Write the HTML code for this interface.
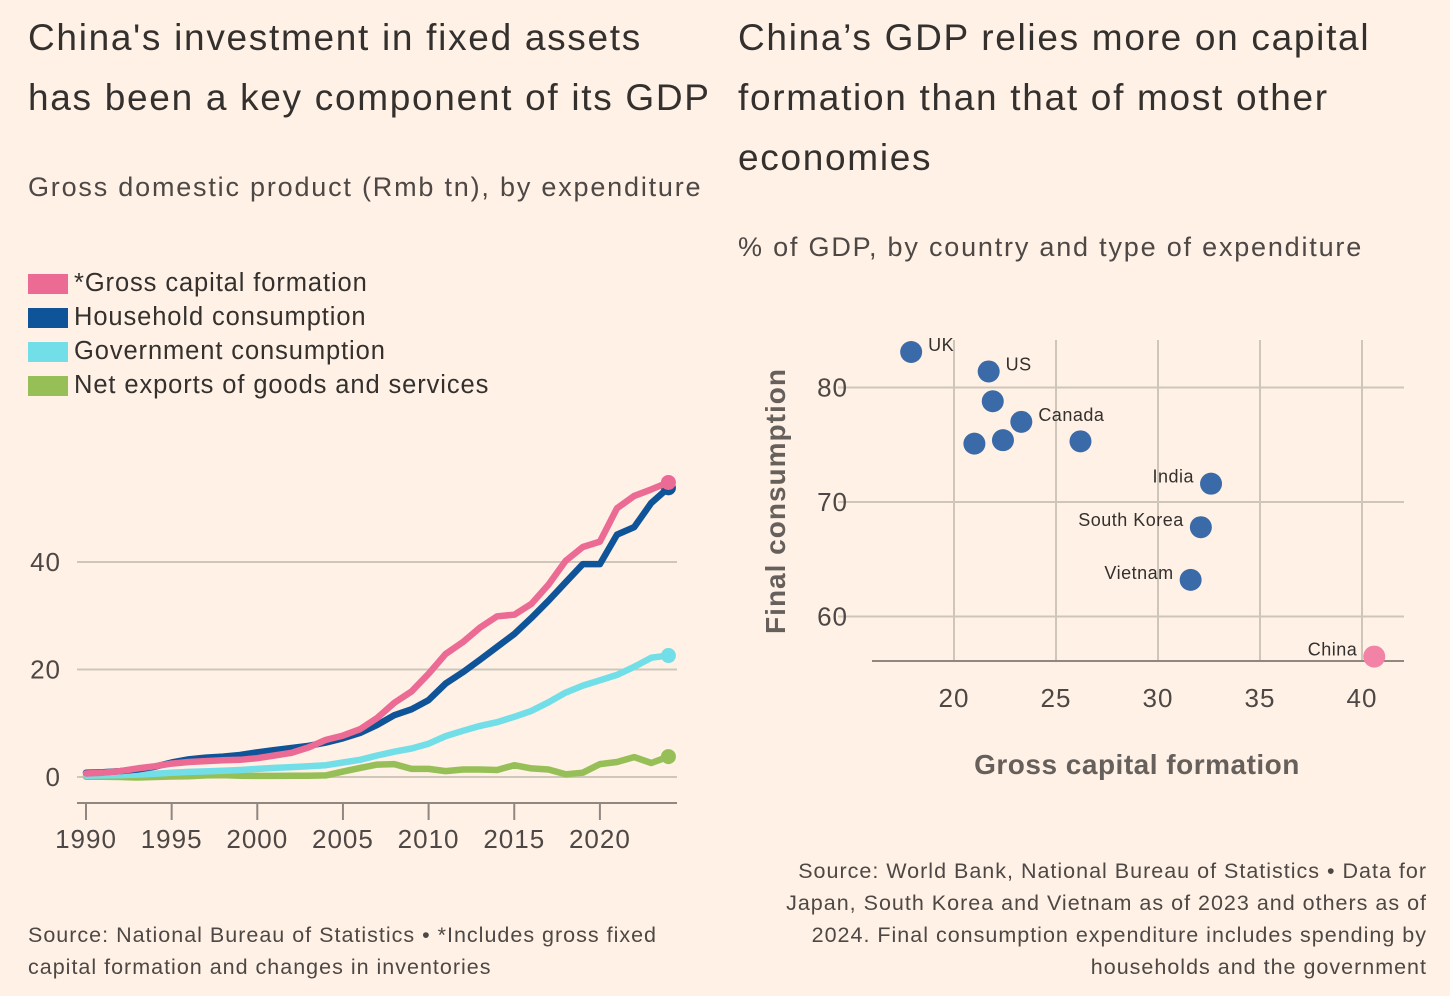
<!DOCTYPE html>
<html><head><meta charset="utf-8"><style>
html,body{margin:0;padding:0;background:#fff1e5;}
body{width:1450px;height:996px;position:relative;overflow:hidden;font-family:"Liberation Sans",sans-serif;color:#33302e;}
.t{position:absolute;white-space:nowrap;}
.title{font-size:37px;line-height:60px;letter-spacing:1.7px;}
.sub{font-size:27px;color:#4d4845;letter-spacing:1.8px;}
.src{font-size:21.5px;line-height:32px;color:#4d4845;letter-spacing:1px;}
.leg{position:absolute;left:28px;font-size:25.5px;height:34px;line-height:34px;letter-spacing:0.9px;}
.leg span.sw{display:inline-block;width:40px;height:20px;vertical-align:-3px;margin-right:6px;}
</style></head><body>
<div class="t title" style="left:28px;top:8px;">China's investment in fixed assets<br>has been a key component of its GDP</div>
<div class="t sub" style="left:28px;top:172px;">Gross domestic product (Rmb tn), by expenditure</div>
<div class="leg" style="top:266px"><span class="sw" style="background:#eb6b94"></span>*Gross capital formation</div>
<div class="leg" style="top:300px"><span class="sw" style="background:#0f5499"></span>Household consumption</div>
<div class="leg" style="top:334px"><span class="sw" style="background:#72dfe8"></span>Government consumption</div>
<div class="leg" style="top:368px"><span class="sw" style="background:#96c057"></span>Net exports of goods and services</div>

<div class="t title" style="left:738px;top:8px;">China’s GDP relies more on capital<br>formation than that of most other<br>economies</div>
<div class="t sub" style="left:738px;top:232px;">% of GDP, by country and type of expenditure</div>

<div class="t src" style="left:28px;top:919px;">Source: National Bureau of Statistics • *Includes gross fixed<br>capital formation and changes in inventories</div>
<div class="t src" style="right:23px;top:855px;text-align:right;">Source: World Bank, National Bureau of Statistics • Data for<br>Japan, South Korea and Vietnam as of 2023 and others as of<br>2024. Final consumption expenditure includes spending by<br>households and the government</div>

<svg id="left" width="720" height="880" style="position:absolute;left:0;top:0"></svg>
<svg id="right" width="730" height="880" style="position:absolute;left:720px;top:0"></svg>

<script>
const years=[];for(let y=1990;y<=2024;y++)years.push(y);
const gcf=[0.65,0.8,1.1,1.6,2.0,2.5,2.8,2.95,3.1,3.2,3.5,4.0,4.5,5.5,6.9,7.7,8.9,11.0,13.8,15.9,19.2,22.9,25.1,27.8,29.9,30.2,32.2,35.8,40.2,42.8,43.8,50.0,52.3,53.5,54.8];
const household=[0.8,0.9,1.1,1.4,1.9,2.7,3.3,3.6,3.8,4.1,4.6,5.0,5.4,5.8,6.4,7.2,8.2,9.7,11.5,12.6,14.3,17.4,19.5,21.8,24.2,26.6,29.6,32.8,36.2,39.6,39.6,45.1,46.5,51.0,53.8];
const government=[0.25,0.3,0.35,0.45,0.6,0.8,0.95,1.05,1.15,1.3,1.5,1.7,1.85,2.0,2.2,2.7,3.2,4.0,4.7,5.3,6.2,7.6,8.6,9.5,10.2,11.2,12.3,13.9,15.7,17.0,18.0,19.0,20.5,22.2,22.6];
const netExports=[0.05,0.05,0.0,-0.1,0.0,0.1,0.15,0.3,0.35,0.25,0.2,0.2,0.25,0.25,0.3,1.0,1.7,2.3,2.4,1.5,1.5,1.1,1.4,1.4,1.3,2.2,1.6,1.4,0.5,0.8,2.4,2.8,3.7,2.6,3.8];
const yTicks=[0,20,40];
const xTicks=[1990,1995,2000,2005,2010,2015,2020];

const NS='http://www.w3.org/2000/svg';
function mk(p,tag,attrs){const e=document.createElementNS(NS,tag);for(const k in attrs)e.setAttribute(k,attrs[k]);p.appendChild(e);return e;}
const L=document.getElementById('left');
const xs=y=>86+(y-1990)*17.13;
const ys=v=>777-v*5.375;
yTicks.forEach(v=>{
  const g=mk(L,'line',{x1:77,x2:677,y1:ys(v),y2:ys(v),stroke:'#cec6b9','stroke-width':2});
  
  
  const t=mk(L,'text',{x:61,y:ys(v)+9,'text-anchor':'end','font-size':26,fill:'#4d4845','letter-spacing':1});
  t.textContent=v;
  
  
});
const ax=mk(L,'line',{x1:77,x2:677,y1:803,y2:803,stroke:'#8f8780','stroke-width':2});


xTicks.forEach(yr=>{
  const tk=mk(L,'line',{x1:xs(yr),x2:xs(yr),y1:803,y2:820,stroke:'#8f8780','stroke-width':2});
  
  
  const t=mk(L,'text',{x:xs(yr),y:848,'text-anchor':'middle','font-size':26,fill:'#4d4845','letter-spacing':1});
  t.textContent=yr;
  
  
});
function series(arr,color,name){
  const d=arr.map((v,i)=>(i?'L':'M')+xs(years[i]).toFixed(1)+','+ys(v).toFixed(1)).join(' ');
  const p=mk(L,'path',{d:d,fill:'none',stroke:color,'stroke-width':6.5,'stroke-linejoin':'round','stroke-linecap':'round'});
  
  
  const n=arr.length-1;
  const c=mk(L,'circle',{cx:xs(years[n]),cy:ys(arr[n]),r:7.5,fill:color});
  
  
}
series(netExports,'#96c057','net-exports');
series(government,'#72dfe8','government');
series(household,'#0f5499','household');
series(gcf,'#eb6b94','gross-capital');

// scatter
const countries=['UK','US','','Canada','','','','India','South Korea','Vietnam','China'];
const capForm=[17.9,21.7,21.9,23.3,21.0,22.4,26.2,32.6,32.1,31.6,40.6];
const finalCons=[83.1,81.4,78.8,77.0,75.1,75.4,75.3,71.6,67.8,63.2,56.5];
const sxTicks=[20,25,30,35,40];
const syTicks=[60,70,80];
const R=document.getElementById('right');
const OX=720;
const sx=v=>954+(v-20)*20.4-OX;
const sy=v=>502-(v-70)*11.45;
syTicks.forEach(v=>{
  const g=mk(R,'line',{x1:838-OX,x2:1404-OX,y1:sy(v),y2:sy(v),stroke:'#cec6b9','stroke-width':2});
  
  
  const t=mk(R,'text',{x:848-OX,y:sy(v)+9,'text-anchor':'end','font-size':26,fill:'#4d4845','letter-spacing':1});
  t.textContent=v;
  
  
});
sxTicks.forEach(v=>{
  const g=mk(R,'line',{x1:sx(v),x2:sx(v),y1:340,y2:661,stroke:'#cec6b9','stroke-width':2});
  
  
  const t=mk(R,'text',{x:sx(v),y:707,'text-anchor':'middle','font-size':26,fill:'#4d4845','letter-spacing':1});
  t.textContent=v;
  
  
});
const bx=mk(R,'line',{x1:872-OX,x2:1404-OX,y1:661,y2:661,stroke:'#8f8780','stroke-width':2});


const yt=mk(R,'text',{x:0,y:0,transform:'translate('+(785-OX)+',501) rotate(-90)','text-anchor':'middle','font-size':28,'font-weight':'bold',fill:'#66605c','letter-spacing':1});
yt.textContent='Final consumption';


const xt=mk(R,'text',{x:1137-OX,y:774,'text-anchor':'middle','font-size':28,'font-weight':'bold',fill:'#66605c','letter-spacing':0.5});
xt.textContent='Gross capital formation';


const rightLabel={UK:1,US:1,Canada:1};
countries.forEach((c,i)=>{
  const cx=sx(capForm[i]),cy=sy(finalCons[i]);
  const isChina=c==='China';
  const dot=mk(R,'circle',{cx:cx,cy:cy,r:11,fill:isChina?'#f283a6':'#3a6aa8'});
  
  
  if(c){
    const right=rightLabel[c];
    const t=mk(R,'text',{x:right?cx+17:cx-17,y:cy-1,'text-anchor':right?'start':'end','font-size':18,fill:'#33302e','letter-spacing':0.5});
    t.textContent=c;
    
    
  }
});
</script>
</body></html>
